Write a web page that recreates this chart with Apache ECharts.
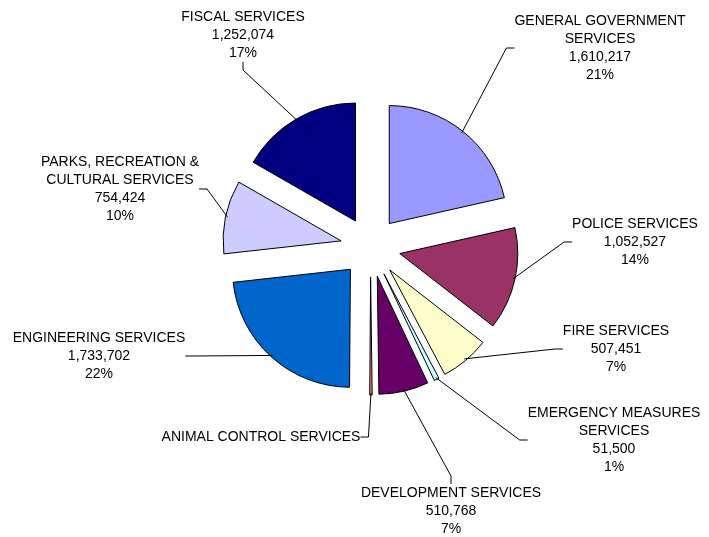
<!DOCTYPE html>
<html><head><meta charset="utf-8">
<script src="https://cdn.jsdelivr.net/npm/echarts@6/dist/echarts.min.js"></script>
<style>html,body{margin:0;padding:0;background:#fff}#c{width:709px;height:537px}</style>
</head><body><div id="c"></div>
<script>
const categories = ['GENERAL GOVERNMENT\nSERVICES', 'POLICE SERVICES', 'FIRE SERVICES', 'EMERGENCY MEASURES\nSERVICES', 'DEVELOPMENT SERVICES', 'ANIMAL CONTROL SERVICES', 'ENGINEERING SERVICES', 'PARKS, RECREATION &\nCULTURAL SERVICES', 'FISCAL SERVICES'];
const values = [1610217, 1052527, 507451, 51500, 510768, 25000, 1733702, 754424, 1252074];
const percentLabels = ['21%', '14%', '7%', '1%', '7%', '', '22%', '10%', '17%'];
const showValue = [true, true, true, true, true, false, true, true, true];
const colors = ['#9999FF', '#993366', '#FFFFCC', '#CCFFFF', '#660066', '#FF8080', '#0066CC', '#CCCCFF', '#000080'];

// label anchor positions (layout, not data)
const labelCenters = [[600, 48], [635, 242], [616, 349], [614, 440], [451, 511], [261, 437], [99, 356], [120, 189], [243, 35]];

const chart = echarts.init(document.getElementById('c'), null, {renderer: 'canvas'});
const CENTER = [370.5, 247];
const R = 118, EXPLODE = 30;

chart.setOption({
  animation: false,
  backgroundColor: '#ffffff',
  series: [{
    // exploded slices
    type: 'pie',
    center: CENTER,
    radius: [0, R],
    startAngle: 90,
    clockwise: true,
    selectedMode: 'multiple',
    selectedOffset: EXPLODE,
    avoidLabelOverlap: false,
    emphasis: {disabled: true},
    silent: true,
    itemStyle: {borderColor: '#000', borderWidth: 1},
    select: {itemStyle: {borderColor: '#000', borderWidth: 1}},
    label: {show: false},
    labelLine: {show: false},
    data: categories.map((n, i) => ({name: n, value: values[i], selected: true, itemStyle: {color: colors[i]}}))
  }, {
    // labels and leader lines
    type: 'pie',
    center: CENTER,
    radius: [0, R + EXPLODE - 2],
    startAngle: 90,
    clockwise: true,
    selectedMode: false,
    avoidLabelOverlap: false,
    emphasis: {disabled: true},
    silent: true,
    z: 3,
    itemStyle: {color: 'rgba(0,0,0,0)', borderWidth: 0},
    label: {
      show: true, position: 'outside', color: '#000',
      fontFamily: 'Liberation Sans, Arial, sans-serif', fontSize: 14, lineHeight: 18,
      align: 'center',
      formatter: p => {
        const i = p.dataIndex;
        if (!showValue[i]) return p.name;
        return p.name + '\n' + values[i].toLocaleString('en-US') + '\n' + percentLabels[i];
      }
    },
    labelLine: {show: true, length: 10, length2: 8, lineStyle: {color: '#000', width: 1}},
    labelLayout: params => {
      const c = labelCenters[params.dataIndex];
      return {x: c[0], y: c[1], align: 'center', verticalAlign: 'middle'};
    },
    data: categories.map((n, i) => ({name: n, value: values[i]}))
  }]
});
</script></body></html>
